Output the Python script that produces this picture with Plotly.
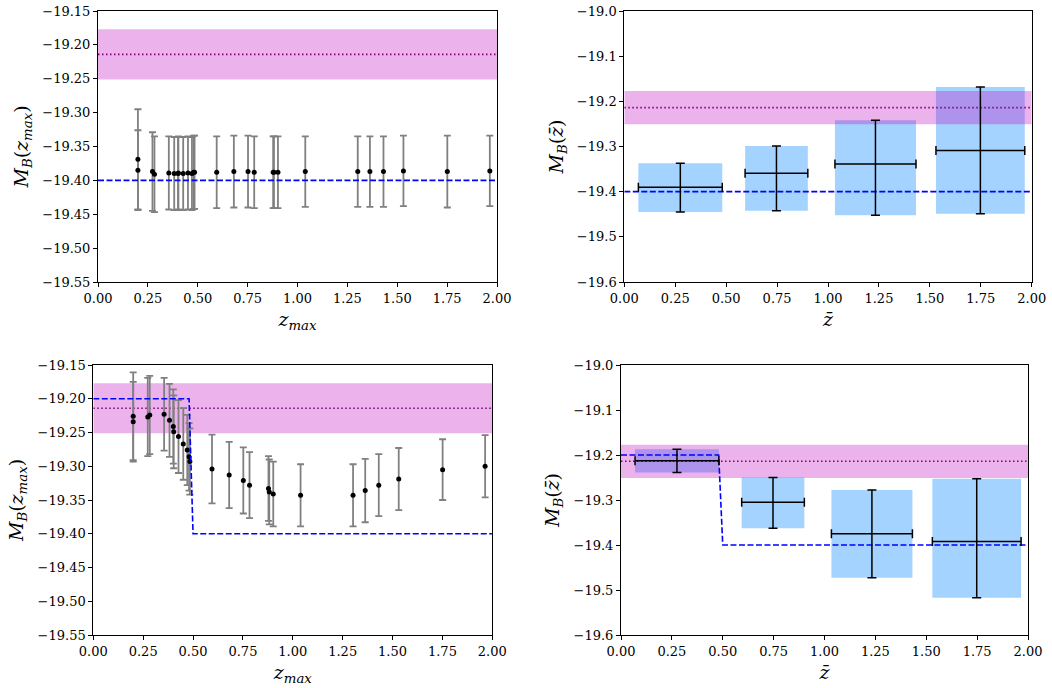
import plotly.graph_objects as go

# ---------------- data ----------------
z_max = [0.200, 0.200, 0.273, 0.283, 0.355, 0.382, 0.401, 0.403, 0.427, 0.451,
         0.471, 0.480, 0.484, 0.595, 0.681, 0.752, 0.783, 0.878, 0.882, 0.902,
         1.039, 1.302, 1.363, 1.431, 1.531, 1.751, 1.964]

# top-left: M_B(z_max) for the first model
MB_top = [-19.369, -19.385, -19.387, -19.391, -19.389, -19.390, -19.390, -19.389,
          -19.390, -19.389, -19.390, -19.388, -19.388, -19.388, -19.387, -19.387,
          -19.388, -19.388, -19.388, -19.388, -19.387, -19.387, -19.387, -19.387,
          -19.386, -19.387, -19.386]
MB_top_err = [0.074, 0.059, 0.058, 0.056, 0.054, 0.054, 0.054, 0.054, 0.054, 0.054,
              0.054, 0.054, 0.054, 0.053, 0.053, 0.053, 0.053, 0.053, 0.053, 0.053,
              0.052, 0.052, 0.052, 0.052, 0.052, 0.053, 0.052]

# bottom-left: M_B(z_max) for the transition model
MB_bot = [-19.226, -19.234, -19.227, -19.224, -19.223, -19.232, -19.241, -19.249,
          -19.256, -19.267, -19.276, -19.286, -19.293, -19.304, -19.313, -19.321,
          -19.328, -19.333, -19.338, -19.341, -19.343, -19.343, -19.336, -19.328,
          -19.319, -19.305, -19.300]
MB_bot_err = [0.065, 0.059, 0.058, 0.058, 0.054, 0.054, 0.055, 0.054, 0.054, 0.053,
              0.052, 0.050, 0.049, 0.051, 0.049, 0.049, 0.049, 0.048, 0.048, 0.048,
              0.046, 0.046, 0.047, 0.046, 0.046, 0.045, 0.046]

# binned results (right panels)
z_bar = [0.275, 0.747, 1.233, 1.748]
z_bar_err = [0.206, 0.154, 0.199, 0.218]

MB_bin_top = [-19.390, -19.359, -19.339, -19.309]
MB_bin_top_plus = [0.053, 0.060, 0.097, 0.141]
MB_bin_top_minus = [0.055, 0.083, 0.113, 0.140]

MB_bin_bot = [-19.213, -19.305, -19.375, -19.392]
MB_bin_bot_plus = [0.026, 0.055, 0.097, 0.139]
MB_bin_bot_minus = [0.026, 0.058, 0.098, 0.125]

# SH0ES calibration band
MB_shoes = -19.214
MB_shoes_err = 0.037

# fiducial models (blue dashed)
model_const_z = [0.0, 2.0]
model_const_M = [-19.40, -19.40]
model_step_z = [0.0, 0.48, 0.50, 2.0]
model_step_M = [-19.20, -19.20, -19.40, -19.40]

x_ticks = [0.0, 0.25, 0.5, 0.75, 1.0, 1.25, 1.5, 1.75, 2.0]
y_ticks_left = [-19.15, -19.20, -19.25, -19.30, -19.35, -19.40, -19.45, -19.50, -19.55]
y_ticks_right = [-19.0, -19.1, -19.2, -19.3, -19.4, -19.5, -19.6]

# ---------------- styling ----------------
FONT = "DejaVu Serif"
W, H = 1052, 688
BAND = "rgba(191,0,191,0.3)"
BOX = "rgba(30,144,255,0.4)"

fig = go.Figure()

def add_band(xa, ya):
    lo, hi = MB_shoes - MB_shoes_err, MB_shoes + MB_shoes_err
    fig.add_trace(go.Scatter(x=[0, 2, 2, 0, 0], y=[lo, lo, hi, hi, lo], fill="toself",
                             fillcolor=BAND, line=dict(width=0), mode="lines",
                             xaxis=xa, yaxis=ya, hoverinfo="skip", showlegend=False))
    fig.add_trace(go.Scatter(x=[0, 2], y=[MB_shoes, MB_shoes], mode="lines",
                             line=dict(color="#800080", width=1.6, dash="1.5px,2.5px"),
                             xaxis=xa, yaxis=ya, showlegend=False))

def add_model(xa, ya, zx, my):
    fig.add_trace(go.Scatter(x=zx, y=my, mode="lines",
                             line=dict(color="#0000ff", width=1.6, dash="6px,2.5px"),
                             xaxis=xa, yaxis=ya, showlegend=False))

def add_points(xa, ya, yv, ye):
    fig.add_trace(go.Scatter(x=z_max, y=yv, mode="markers",
                             marker=dict(color="black", size=5),
                             error_y=dict(type="data", array=ye, color="#808080",
                                          thickness=1.8, width=3.5),
                             xaxis=xa, yaxis=ya, showlegend=False))

def add_boxes(xa, ya, yv, yp, ym):
    bx, by = [], []
    for zc, ze, m, p, n in zip(z_bar, z_bar_err, yv, yp, ym):
        x0, x1, y0, y1 = zc - ze, zc + ze, m - n, m + p
        bx += [x0, x1, x1, x0, x0, None]
        by += [y0, y0, y1, y1, y0, None]
    fig.add_trace(go.Scatter(x=bx, y=by, fill="toself", fillcolor=BOX, mode="lines",
                             line=dict(width=0), xaxis=xa, yaxis=ya,
                             hoverinfo="skip", showlegend=False))

def add_cross(xa, ya, yv, yp, ym):
    fig.add_trace(go.Scatter(x=z_bar, y=yv, mode="markers",
                             marker=dict(color="rgba(0,0,0,0)", size=1),
                             error_y=dict(type="data", array=yp, arrayminus=ym,
                                          color="black", thickness=1.5, width=4.5),
                             error_x=dict(type="data", array=z_bar_err, color="black",
                                          thickness=1.5, width=4.5),
                             xaxis=xa, yaxis=ya, showlegend=False))

# top-left
add_band("x", "y")
add_points("x", "y", MB_top, MB_top_err)
add_model("x", "y", model_const_z, model_const_M)
# top-right
add_boxes("x2", "y2", MB_bin_top, MB_bin_top_plus, MB_bin_top_minus)
add_band("x2", "y2")
add_model("x2", "y2", model_const_z, model_const_M)
add_cross("x2", "y2", MB_bin_top, MB_bin_top_plus, MB_bin_top_minus)
# bottom-left
add_band("x3", "y3")
add_points("x3", "y3", MB_bot, MB_bot_err)
add_model("x3", "y3", model_step_z, model_step_M)
# bottom-right
add_boxes("x4", "y4", MB_bin_bot, MB_bin_bot_plus, MB_bin_bot_minus)
add_band("x4", "y4")
add_model("x4", "y4", model_step_z, model_step_M)
add_cross("x4", "y4", MB_bin_bot, MB_bin_bot_plus, MB_bin_bot_minus)

def xd(a, b):
    return [a / W, b / W]

def yd(top, bottom):
    return [1 - bottom / H, 1 - top / H]

common = dict(showline=True, linecolor="black", linewidth=1, mirror=True,
              ticks="outside", ticklen=4, tickwidth=1, tickcolor="black",
              showgrid=False, zeroline=False, automargin=False,
              ticklabeloverflow="allow",
              tickfont=dict(family=FONT, size=13, color="black"))

XT_MAX = "<i>z</i><sub><i>max</i></sub>"
XT_BAR = "<i>z\u0304</i>"
YT_MAX = "<i>M</i><sub><i>B</i></sub>(<i>z</i><sub><i>max</i></sub>)"
YT_BAR = "<i>M</i><sub><i>B</i></sub>(<i>z\u0304</i>)"

def xaxis(dom, anchor, title):
    return dict(domain=dom, anchor=anchor, range=[0, 2], tickvals=x_ticks,
                tickformat=".2f",
                title=dict(text=title, font=dict(family=FONT, size=19, color="black"),
                           standoff=8), **common)

def yaxis(dom, anchor, title, rng, tv, fmt):
    return dict(domain=dom, anchor=anchor, range=rng, tickvals=tv, tickformat=fmt,
                title=dict(text=title, font=dict(family=FONT, size=19, color="black"),
                           standoff=8), **common)

fig.update_layout(
    width=W, height=H, margin=dict(l=0, r=0, t=0, b=0, autoexpand=False),
    plot_bgcolor="white", paper_bgcolor="white", showlegend=False,
    xaxis=xaxis(xd(98, 497), "y", XT_MAX),
    yaxis=yaxis(yd(11, 282), "x", YT_MAX, [-19.55, -19.15], y_ticks_left, ".2f"),
    xaxis2=xaxis(xd(624.3, 1031.7), "y2", XT_BAR),
    yaxis2=yaxis(yd(11, 282), "x2", YT_BAR, [-19.6, -19.0], y_ticks_right, ".1f"),
    xaxis3=xaxis(xd(93.3, 492.3), "y3", XT_MAX),
    yaxis3=yaxis(yd(365, 635), "x3", YT_MAX, [-19.55, -19.15], y_ticks_left, ".2f"),
    xaxis4=xaxis(xd(621, 1028), "y4", XT_BAR),
    yaxis4=yaxis(yd(365, 635), "x4", YT_BAR, [-19.6, -19.0], y_ticks_right, ".1f"),
)

fig.write_html("out.html", config={"displayModeBar": False},
               post_script="document.body.style.margin='0';document.body.style.overflow='hidden';")
